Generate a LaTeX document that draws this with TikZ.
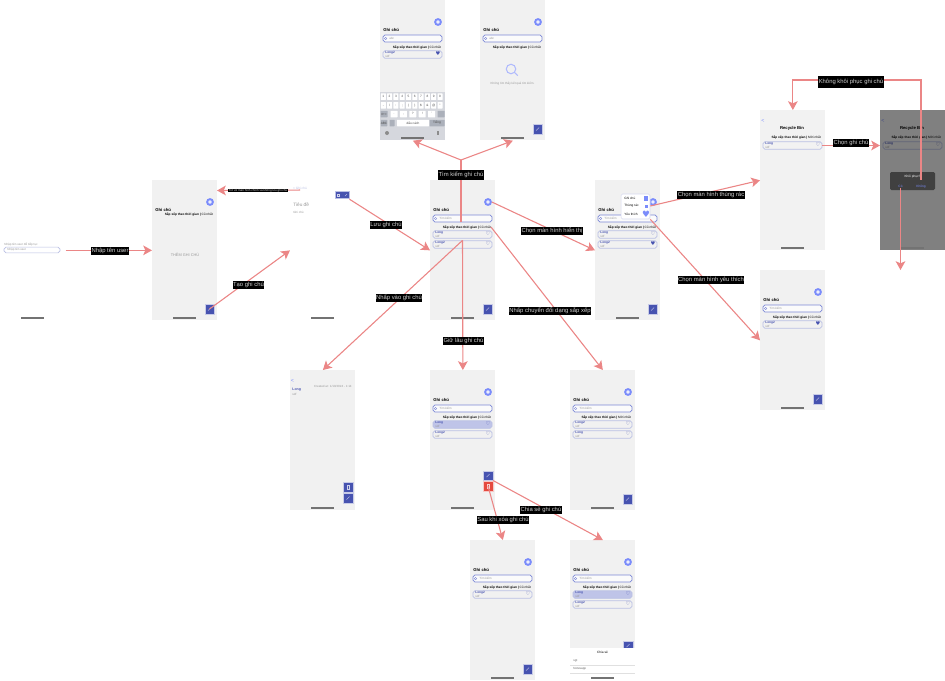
\documentclass[tikz,border=0pt]{standalone}
\usepackage{fontspec}
\usepackage{xcolor}
\setmainfont{Liberation Sans}
\newfontfamily\symfont{DejaVu Sans}
\usetikzlibrary{arrows.meta}

\definecolor{flowpink}{HTML}{EB8686}
\definecolor{screengray}{HTML}{F1F1F1}
\definecolor{navyblue}{HTML}{4753B0}
\definecolor{addblue}{HTML}{7B8CFB}
\definecolor{searchline}{HTML}{7C88D6}
\definecolor{cardline}{HTML}{BAC0E4}
\definecolor{cardpick}{HTML}{BFC4E8}
\definecolor{keygray}{HTML}{ABB0BA}
\definecolor{delred}{HTML}{E5493F}

\tikzset{
    flow/.style={draw=flowpink, line width=0.62pt, -{Stealth[length=5pt, width=5.5pt, inset=1.2pt]}},
    flowline/.style={draw=flowpink, line width=0.62pt},
    flowlabel/.style={fill=black, text=white!82!black, inner xsep=0.3pt, inner ysep=0pt,
        minimum height=0.16cm, font=\fontsize{3.35}{4}\selectfont},
    screenbox/.style={rectangle, anchor=north west, inner sep=0, minimum width=1.3cm, minimum height=2.8cm},
    homebar/.style={rectangle, fill=black!55, inner sep=0, minimum width=0.46cm, minimum height=0.03cm},
    addbtn/.style={circle, draw=addblue, fill=white!85!addblue, line width=1.1pt, inner sep=0, minimum size=0.115cm},
    searchbox/.style={rectangle, rounded corners=1.1pt, draw=searchline, fill=white!97!gray, line width=0.4pt,
        inner sep=0, minimum width=1.18cm, minimum height=0.14cm},
    notebox/.style={rectangle, rounded corners=1.1pt, draw=cardline, line width=0.4pt,
        inner sep=0, minimum width=1.18cm, minimum height=0.15cm},
    squarebtn/.style={rectangle, inner sep=0, minimum size=0.19cm},
    keycap/.style={rectangle, rounded corners=0.2pt, fill=white, inner sep=0, minimum width=0.1cm, minimum height=0.13cm,
        text=black!70, font=\fontsize{1.8}{2}\selectfont},
    keygraycap/.style={keycap, fill=keygray},
    keyrow/.style={inner sep=0, text=black!70, font=\fontsize{1.8}{2}\selectfont},
    tinytext/.style={inner sep=0, font=\fontsize{1.8}{2}\selectfont},
    titletext/.style={inner sep=0, font=\fontsize{2.4}{3}\bfseries\selectfont},
    hinttext/.style={inner sep=0, text=black!40, font=\fontsize{1.7}{2}\selectfont},
    symtext/.style={inner sep=0, text=navyblue, font=\fontsize{3}{3}\symfont},
}

%% one empty phone screen with its home bar
\newcommand{\screenbg}[2]{
    \node (#1) [screenbox, fill=#2] at (0,0) {};
    \node (#1-bar) [homebar] at (32.5,138) {};
}
%% add button, title, search box and sort line
\newcommand{\noteshead}[2]{
    \node (#1-add) [addbtn] at (58,22) {};
    \node (#1-title) [titletext, anchor=west] at (3,30) {Ghi chú};
    \node (#1-search) [searchbox] at (32.5,38.5) {};
    \node (#1-lens) [circle, draw=searchline, line width=0.2pt, inner sep=0, minimum size=0.05cm] at (5.5,38.5) {};
    \node (#1-hint) [hinttext, anchor=west] at (9,38.5) {#2};
    \node (#1-sort) [tinytext, anchor=east] at (61,47) {\textbf{Sắp xếp theo thời gian |} Cũ nhất};
}
%% name, y, title, fill, heart
\newcommand{\notecard}[5]{
    \node (#1) [notebox, fill=#4] at (32.5,#2) {};
    \node (#1-head) [tinytext, anchor=west, text=navyblue, font=\fontsize{1.8}{2}\bfseries\selectfont] at (5,#2-1.5) {#3};
    \node (#1-sub) [hinttext, anchor=west] at (5,#2+1.7) {sdf};
    \node (#1-heart) [symtext] at (58,#2-1) {#5};
}
\newcommand{\fabbtn}[4]{
    \node (#1) [squarebtn, draw=white!70!navyblue, line width=0.2pt, fill=#4] at (#2,#3) {};
    \draw [white!75!navyblue, line width=0.2pt] ([shift={(-1.5,1.5)}]#1.center) -- ([shift={(1.5,-1.5)}]#1.center);
}
\newcommand{\trashbtn}[4]{
    \node (#1) [squarebtn, draw=white!70!#4, line width=0.2pt, fill=#4] at (#2,#3) {};
    \node (#1-icon) [rectangle, draw=white!75!#4, line width=0.2pt, inner sep=0, minimum width=0.05cm, minimum height=0.07cm] at (#2,#3) {};
}
%% key letters set at the pitch of a keyboard row
\newcommand{\kb}[1]{\makebox[0.126cm]{#1}}
\newcommand{\kw}[1]{\makebox[0.188cm]{#1}}

\begin{document}
\begin{tikzpicture}[x=0.02cm, y=-0.02cm]
    \useasboundingbox (0,0) rectangle (945,680);

    %% login
    \begin{scope}[shift={(0,180)}]
        \screenbg{login}{white}
        \node (login-head) [hinttext, anchor=west] at (4,65) {Nhập tên user để tiếp tục};
        \node (login-user) [notebox, minimum width=1.12cm, minimum height=0.115cm, fill=white] at (32,70) {};
        \node (login-hint) [hinttext, anchor=west] at (7,70) {Nhập tên user};
    \end{scope}

    %% empty home
    \begin{scope}[shift={(152,180)}]
        \screenbg{home}{screengray}
        \node (home-add) [addbtn] at (58,22) {};
        \node (home-title) [titletext, anchor=west] at (3,30) {Ghi chú};
        \node (home-sort) [tinytext, anchor=east] at (61,34.5) {\textbf{Sắp xếp theo thời gian |} Cũ nhất};
        \node (home-empty) [hinttext, font=\fontsize{2.2}{3}\selectfont] at (33,75) {THÊM GHI CHÚ};
        \fabbtn{home-fab}{57.5}{129}{navyblue}
    \end{scope}

    %% editor
    \begin{scope}[shift={(290,180)}]
        \screenbg{editor}{white}
        \node (editor-back) [tinytext, text=cardline] at (10,8.5) {< Ghi chú};
        \node (editor-save) [rectangle, draw=cardline, fill=navyblue, line width=0.5pt, inner sep=0,
            minimum width=0.28cm, minimum height=0.15cm] at (52,15) {};
        \node (editor-icon1) [rectangle, draw=white!75!navyblue, line width=0.2pt, inner sep=0, minimum size=0.04cm] at (48.5,15) {};
        \draw [white!75!navyblue, line width=0.2pt] (55,16) -- (57,14);
        \node (editor-head) [hinttext, anchor=west, font=\fontsize{2.7}{3}\selectfont] at (3,25) {Tiêu đề};
        \node (editor-text) [hinttext, anchor=west] at (3,32) {Ghi chú};
    \end{scope}

    %% main list
    \begin{scope}[shift={(430,180)}]
        \screenbg{main}{screengray}
        \noteshead{main}{Tìm kiếm}
        \notecard{main-note1}{54.5}{Long}{screengray}{♡}
        \notecard{main-note2}{64.5}{Long2}{screengray}{♡}
        \fabbtn{main-fab}{57.5}{129}{navyblue}
    \end{scope}

    %% main list with the menu open
    \begin{scope}[shift={(595,180)}]
        \screenbg{menu}{screengray}
        \noteshead{menu}{Tìm kiếm}
        \notecard{menu-note1}{54.5}{Long}{screengray}{♡}
        \notecard{menu-note2}{64.5}{Long2}{screengray}{♥}
        \fabbtn{menu-fab}{57.5}{129}{navyblue}
        \node (menu-pop) [rectangle, draw=cardline!60, fill=white, rounded corners=0.8pt, line width=0.3pt,
            inner sep=0, minimum width=0.58cm, minimum height=0.5cm] at (40.5,26.5) {};
        \node (menu-all) [tinytext, anchor=west] at (29,18.5) {Ghi chú};
        \node (menu-trash) [tinytext, anchor=west] at (29,26) {Thùng rác};
        \node (menu-fav) [tinytext, anchor=west] at (29,34) {Yêu thích};
        \node (menu-allicon) [rectangle, fill=addblue, inner sep=0, minimum width=0.07cm, minimum height=0.09cm] at (51,18.5) {};
        \node (menu-trashicon) [rectangle, fill=addblue, inner sep=0, minimum width=0.06cm, minimum height=0.07cm] at (51,26.5) {};
        \node (menu-favicon) [symtext, text=addblue, font=\fontsize{5}{5}\symfont] at (51,34) {♥};
    \end{scope}

    %% search with keyboard
    \begin{scope}[shift={(380,0)}]
        \node (typing) [screenbox, fill=screengray] at (0,0) {};
        \noteshead{typing}{abc}
        \notecard{typing-note}{54.5}{Long2}{screengray}{♥}
        \node (typing-pad) [rectangle, anchor=north west, fill=keygray!50, inner sep=0,
            minimum width=1.3cm, minimum height=0.96cm] at (0,92) {};
        \foreach \x/\k in {0/1,1/2,2/3,3/4,4/5,5/6,6/7,7/8,8/9,9/0}
            \node (typing-a\x) [keycap] at (3.3+6.3*\x,96.7) {\k};
        \foreach \x in {0,...,9}
            \node (typing-b\x) [keycap] at (3.3+6.3*\x,105.3) {};
        \node (typing-row2) [keyrow] at (31.65,105.3) {\kb{-}\kb{/}\kb{:}\kb{;}\kb{(}\kb{)}\kb{\$}\kb{\&}\kb{@}\kb{"}};
        \node (typing-shift) [keygraycap, minimum width=0.14cm] at (4,114) {\#+=};
        \foreach \x in {0,...,4}
            \node (typing-c\x) [keycap, minimum width=0.14cm] at (14+9.4*\x,114) {};
        \node (typing-row3) [keyrow] at (32.8,114) {\kw{.}\kw{,}\kw{?}\kw{!}\kw{'}};
        \node (typing-back) [keygraycap, minimum width=0.14cm] at (61,114) {};
        \node (typing-abc) [keygraycap] at (4,123) {ABC};
        \node (typing-emoji) [keygraycap] at (12,123) {};
        \node (typing-space) [keycap, minimum width=0.64cm] at (33,123) {dấu cách};
        \node (typing-go) [keygraycap, minimum width=0.3cm] at (57,123) {Tiếng};
        \node (typing-globe) [circle, fill=black!45, inner sep=0, minimum size=0.08cm] at (7,133) {};
        \node (typing-mic) [rectangle, fill=black!45, inner sep=0, minimum width=0.03cm, minimum height=0.08cm] at (58,133) {};
        \node (typing-bar) [homebar] at (32.5,138) {};
    \end{scope}

    %% search with no result
    \begin{scope}[shift={(480,0)}]
        \screenbg{nores}{screengray}
        \noteshead{nores}{abc}
        \node (nores-glass) [circle, draw=addblue!60, line width=0.6pt, inner sep=0, minimum size=0.19cm] at (31,69) {};
        \draw [addblue!60, line width=0.6pt] (nores-glass.south east) -- ++(3,3);
        \node (nores-text) [hinttext] at (32.5,84) {Không tìm thấy kết quả tìm kiếm.};
        \fabbtn{nores-fab}{57.5}{129}{navyblue}
    \end{scope}

    %% recycle bin
    \begin{scope}[shift={(760,110)}]
        \screenbg{bin}{white!95!black}
        \node (bin-back) [tinytext, text=addblue, font=\fontsize{3}{3}\selectfont] at (3,11) {<};
        \node (bin-title) [titletext] at (32,18) {Recycle Bin};
        \node (bin-sort) [tinytext, anchor=east] at (61,27) {\textbf{Sắp xếp theo thời gian |} Mới nhất};
        \notecard{bin-note}{35.5}{Long}{white!95!black}{♡}
    \end{scope}

    %% recycle bin with the dialog
    \begin{scope}[shift={(880,110)}]
        \screenbg{dlg}{white!95!black}
        \node (dlg-back) [tinytext, text=addblue, font=\fontsize{3}{3}\selectfont] at (3,11) {<};
        \node (dlg-title) [titletext] at (32,18) {Recycle Bin};
        \node (dlg-sort) [tinytext, anchor=east] at (61,27) {\textbf{Sắp xếp theo thời gian |} Mới nhất};
        \notecard{dlg-note}{35.5}{Long}{white!95!black}{♡}
        \node (dlg-dim) [screenbox, fill=black, opacity=0.47] at (0,0) {};
        \node (dlg-box) [rectangle, fill=black!75, rounded corners=0.8pt, inner sep=0,
            minimum width=0.9cm, minimum height=0.36cm] at (32.5,71) {};
        \node (dlg-ask) [tinytext, text=white] at (32.5,67) {Khôi phục?};
        \node (dlg-yes) [tinytext, text=addblue] at (20.5,76.5) {Có};
        \node (dlg-no) [tinytext, text=addblue] at (41,76.5) {Không};
        \node (dlg-redraw) [homebar] at (32.5,138) {};
    \end{scope}

    %% favourites
    \begin{scope}[shift={(760,270)}]
        \screenbg{fav}{screengray}
        \noteshead{fav}{Tìm kiếm}
        \notecard{fav-note}{54.5}{Long2}{screengray}{♥}
        \fabbtn{fav-fab}{57.5}{129}{navyblue}
    \end{scope}

    %% note detail
    \begin{scope}[shift={(290,370)}]
        \screenbg{detail}{screengray}
        \node (detail-back) [tinytext, text=addblue, font=\fontsize{3}{3}\selectfont] at (2.5,11) {<};
        \node (detail-date) [hinttext, anchor=east] at (62,16) {Created at: 1/10/2024 - 1:14};
        \node (detail-head) [tinytext, anchor=west, text=navyblue, font=\fontsize{2}{2}\bfseries\selectfont] at (2,20) {Long};
        \node (detail-sub) [hinttext, anchor=west] at (2,24) {sdf};
        \trashbtn{detail-del}{58}{117}{navyblue}
        \fabbtn{detail-fab}{58}{128}{navyblue}
    \end{scope}

    %% long press
    \begin{scope}[shift={(430,370)}]
        \screenbg{hold}{screengray}
        \noteshead{hold}{Tìm kiếm}
        \notecard{hold-note1}{54.5}{Long}{cardpick}{♡}
        \notecard{hold-note2}{64.5}{Long2}{screengray}{♡}
        \fabbtn{hold-share}{58}{105.5}{navyblue}
        \trashbtn{hold-del}{58}{116}{delred}
    \end{scope}

    %% sorted list
    \begin{scope}[shift={(570,370)}]
        \screenbg{sorted}{screengray}
        \node (sorted-add) [addbtn] at (58,22) {};
        \node (sorted-title) [titletext, anchor=west] at (3,30) {Ghi chú};
        \node (sorted-search) [searchbox] at (32.5,38.5) {};
        \node (sorted-lens) [circle, draw=searchline, line width=0.2pt, inner sep=0, minimum size=0.05cm] at (5.5,38.5) {};
        \node (sorted-hint) [hinttext, anchor=west] at (9,38.5) {Tìm kiếm};
        \node (sorted-sort) [tinytext, anchor=east] at (61,47) {\textbf{Sắp xếp theo thời gian |} Mới nhất};
        \notecard{sorted-note1}{54.5}{Long2}{screengray}{♡}
        \notecard{sorted-note2}{64.5}{Long}{screengray}{♡}
        \fabbtn{sorted-fab}{57.5}{129}{navyblue}
    \end{scope}

    %% after deleting
    \begin{scope}[shift={(470,540)}]
        \screenbg{after}{screengray}
        \noteshead{after}{Tìm kiếm}
        \notecard{after-note}{54.5}{Long2}{screengray}{♡}
        \fabbtn{after-fab}{57.5}{129}{navyblue}
    \end{scope}

    %% share sheet
    \begin{scope}[shift={(570,540)}]
        \node (share) [screenbox, fill=screengray] at (0,0) {};
        \noteshead{share}{Tìm kiếm}
        \notecard{share-note1}{54.5}{Long}{cardpick}{♡}
        \notecard{share-note2}{64.5}{Long2}{screengray}{♡}
        \fabbtn{share-fab}{58}{105.5}{navyblue}
        \node (share-sheet) [rectangle, anchor=north west, fill=white, inner sep=0,
            minimum width=1.3cm, minimum height=0.64cm] at (0,108) {};
        \node (share-head) [tinytext] at (32.5,112) {Chia sẻ};
        \node (share-app1) [hinttext, anchor=west, text=black!60] at (3,121) {sgt};
        \node (share-app2) [hinttext, anchor=west, text=black!60] at (3,129) {Notesapp};
        \draw [black!12, line width=0.2pt] (share-sheet.west |- share-app1.south) ++(0,2.5) -- ++(65,0);
        \draw [black!12, line width=0.2pt] (share-sheet.west |- share-app2.south) ++(0,2.5) -- ++(65,0);
        \node (share-bar) [homebar] at (32.5,138) {};
    \end{scope}

    \coordinate (homeBack) at (217,190.5);
    \coordinate (searchFork) at (461,160);
    \coordinate (restoreBend) at (851,80);
    \coordinate (restoreDown) at (900.5,270);

    \draw [flow] (login.east) -- (home.west);
    \draw [flow] (home-fab.center) -- (editor.west);
    \draw [flow] (editor-back.south) -- (homeBack);
    \draw [flow] (editor-save.south east) -- (main.west);

    \draw [flowline] (main-search.south -| searchFork) -- (searchFork);
    \draw [flow] (searchFork) -- (typing.south);
    \draw [flow] (searchFork) -- (nores.south);

    \draw [flow] (main-add.east) -- (menu.west);
    \draw [flow] (main-note2.north) -- (detail.north);
    \draw [flow] (main-note2.north) -- (hold.north);
    \draw [flow] (main-sort.east) -- (sorted.north);

    \draw [flow] (menu-pop.east |- menu-trash) -- (bin.west);
    \draw [flow] (menu-pop.south east) -- (fav.west);

    \draw [flow] (bin-note.east) -- (bin-note.east -| dlg.west);
    \draw [flow] ([shift={(0,-5)}]dlg-no.north) |- (restoreBend) -| (bin.north);
    \draw [flow] (dlg-yes.south) -- (restoreDown);

    \draw [flow] (hold-del.center) -- (after.north);
    \draw [flow] (hold-share.south east) -- (share.north);

    \node (lblUser) [flowlabel] at (110,251) {Nhập tên user};
    \node (lblCreate) [flowlabel] at (248.5,285) {Tạo ghi chú};
    \node (lblBack) [flowlabel, font=\fontsize{1.7}{2}\selectfont, minimum height=0.07cm] at (258,190.7) {Trở về màn hình chính và không lưu ghi chú};
    \node (lblSave) [flowlabel] at (386,225) {Lưu ghi chú};
    \node (lblSearch) [flowlabel, minimum height=0.19cm] at (461,175) {Tìm kiếm ghi chú};
    \node (lblShow) [flowlabel] at (552,231) {Chọn màn hình hiển thị};
    \node (lblOpen) [flowlabel] at (399,298) {Nhấp vào ghi chú};
    \node (lblHold) [flowlabel] at (463.5,341) {Giữ lâu ghi chú};
    \node (lblSwitch) [flowlabel] at (550,311) {Nhấp chuyển đổi dạng sắp xếp};
    \node (lblTrash) [flowlabel] at (711,195) {Chọn màn hình thùng rác};
    \node (lblFav) [flowlabel] at (711,280) {Chọn màn hình yêu thích};
    \node (lblPick) [flowlabel] at (851,143) {Chọn ghi chú};
    \node (lblKeep) [flowlabel, minimum height=0.24cm] at (851,82) {Không khôi phục ghi chú};
    \node (lblShare) [flowlabel] at (541,510) {Chia sẻ ghi chú};
    \node (lblDelete) [flowlabel] at (503,520) {Sau khi xóa ghi chú};
\end{tikzpicture}
\end{document}
